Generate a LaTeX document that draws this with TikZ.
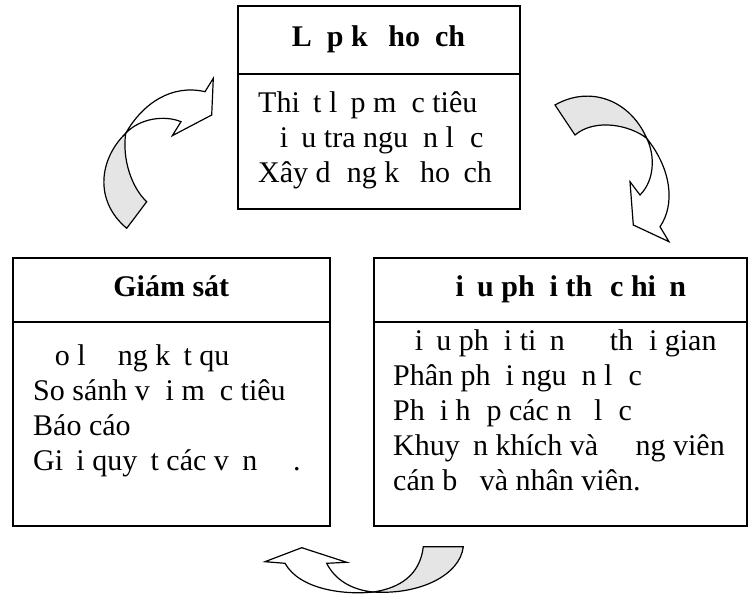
\documentclass[tikz,border=0pt]{standalone}
\usepackage{fontspec}
\setmainfont{Liberation Serif}
\usetikzlibrary{positioning}

\begin{document}
\begin{tikzpicture}[x=1pt,y=-1pt,font=\fontsize{30}{35}\selectfont,
    box/.style={draw,line width=2pt,outer sep=0pt,inner sep=0pt},
    head/.style={box,font=\fontsize{30}{35}\selectfont\bfseries,
      text height=20pt,text depth=7pt},
    list/.style={align=left,anchor=base west,inner sep=0pt},
    twist/.style={draw,line width=1.2pt,line join=miter,fill=white},
    back/.style={twist,fill=gray!20}]
  \useasboundingbox (0,0) rectangle (748,596);
  % planning (lists sit on the baseline of their last line)
  \node[head,minimum width=282pt,minimum height=67.5pt] (planH) at (378.5,40.25)
    {L\phantom{ậ}p k\phantom{ế} ho\phantom{ạ}ch};
  \node[box,below=0pt of planH,minimum width=282pt,minimum height=135pt] (planB) {};
  \node[list] (planL) at (258,183)
    {Thi\phantom{ế}t l\phantom{ậ}p m\phantom{ụ}c tiêu\\
     \phantom{Đ}i\phantom{ề}u tra ngu\phantom{ồ}n l\phantom{ự}c\\
     Xây d\phantom{ự}ng k\phantom{ế} ho\phantom{ạ}ch};
  % monitoring
  \node[head,minimum width=317.5pt,minimum height=63.5pt] (monH) at (171.25,290.25)
    {Giám sát};
  \node[box,below=0pt of monH,minimum width=317.5pt,minimum height=204pt] (monB) {};
  \node[list] (monL) at (33,470)
    {\phantom{Đ}o l\phantom{ườ}ng k\phantom{ế}t qu\phantom{ả}\\
     So sánh v\phantom{ớ}i m\phantom{ụ}c tiêu\\
     Báo cáo\\
     Gi\phantom{ả}i quy\phantom{ế}t các v\phantom{ấ}n \phantom{đề}.};
  % execution
  \node[head,minimum width=373pt,minimum height=63.5pt] (runH) at (560,290.25)
    {\phantom{Đ}i\phantom{ề}u ph\phantom{ố}i th\phantom{ự}c hi\phantom{ệ}n};
  \node[box,below=0pt of runH,minimum width=373pt,minimum height=204pt] (runB) {};
  \node[list] (runL) at (393,490)
    {\phantom{Đ}i\phantom{ề}u ph\phantom{ố}i ti\phantom{ế}n \phantom{độ} th\phantom{ờ}i gian\\
     Phân ph\phantom{ố}i ngu\phantom{ồ}n l\phantom{ự}c\\
     Ph\phantom{ố}i h\phantom{ợ}p các n\phantom{ỗ} l\phantom{ự}c\\
     Khuy\phantom{ế}n khích và \phantom{độ}ng viên\\
     cán b\phantom{ộ} và nhân viên.};
  % curved arrows between the boxes
  \draw[back] (125.7,133.3) .. controls (100,158) and (93,200) .. (126.7,228.3)
    -- (146.7,201.7) .. controls (132,188) and (122,160) .. cycle;
  \draw[twist] (125.7,133.3) .. controls (143,103) and (172,84) .. (205,91.7)
    -- (213.3,78.3) -- (211.7,115) -- (172.3,135.7) -- (181,121.7)
    .. controls (165,115) and (140,118) .. cycle;
  \draw[back] (555,105) .. controls (590,85) and (630,100) .. (646.7,138.3)
    .. controls (630,125) and (595,118) .. (575,135) -- cycle;
  \draw[twist] (646.7,138.3) .. controls (655,155) and (655,180) .. (640,195)
    -- (630,181.7) -- (633.3,225) -- (669,241.7) -- (660,226.7)
    .. controls (675,205) and (672,170) .. cycle;
  \draw[back] (373.3,592) .. controls (420,595) and (460,575) .. (463.3,546.7)
    -- (423.3,546.7) .. controls (420,575) and (400,588) .. cycle;
  \draw[twist] (285,563.3) .. controls (300,590) and (345,595) .. (373.3,592)
    .. controls (352,590) and (335,580) .. (326.7,563.3)
    -- (346.7,562.3) -- (301.7,547.7) -- (265,561.7) -- cycle;
\end{tikzpicture}
\end{document}
